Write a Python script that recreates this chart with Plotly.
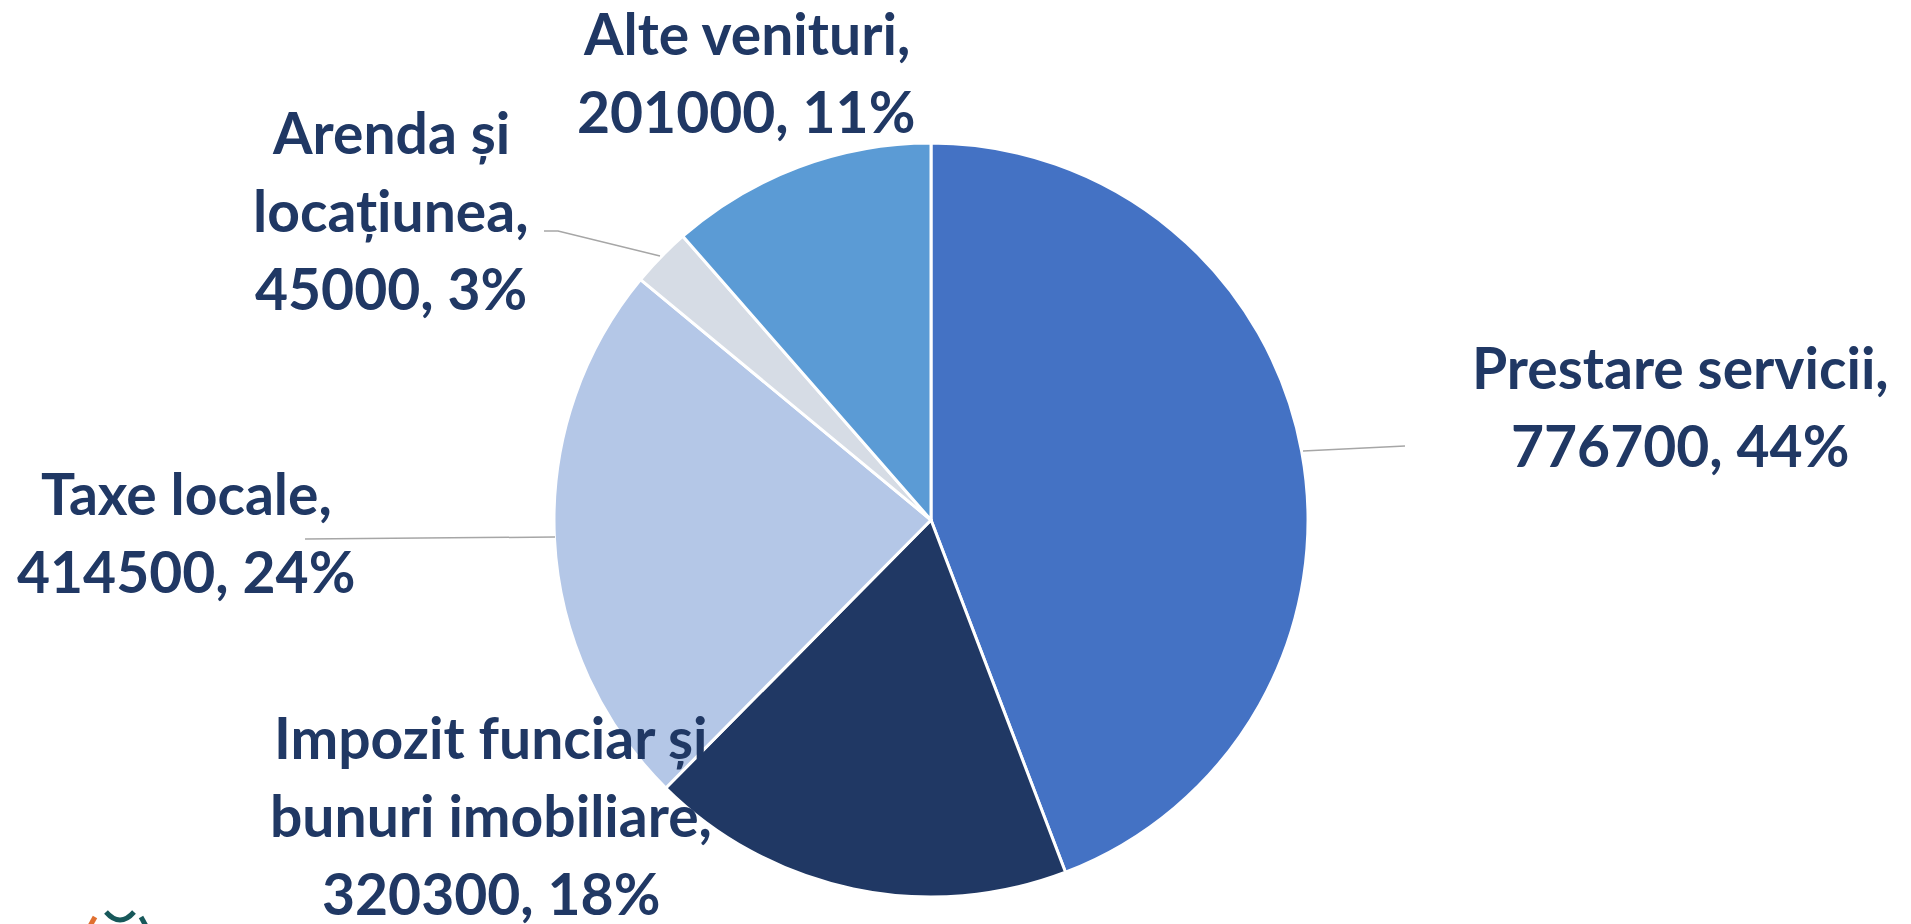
import plotly.graph_objects as go

W, H = 1911, 924

# ---- data ----
categories = ["Prestare servicii", "Impozit funciar și bunuri imobiliare", "Taxe locale",
              "Arenda și locațiunea", "Alte venituri"]
values = [776700, 320300, 414500, 45000, 201000]
colors = ["#4472C4", "#203864", "#B4C7E7", "#D6DCE5", "#5B9BD5"]
# label line breaks as shown in the chart
label_lines = [
    ["Prestare servicii,"],
    ["Impozit funciar și", "bunuri imobiliare,"],
    ["Taxe locale,"],
    ["Arenda și", "locațiunea,"],
    ["Alte venituri,"],
]

total = sum(values)
percents = [round(v / total * 100) for v in values]

# ---- layout (pixel positions of label blocks, style only) ----
label_pos = [(1680, 406), (491, 815), (186, 532), (391, 210), (746, 72)]
line_step = 78
leaders = [
    [(1303, 451), (1405, 446)],
    None,
    [(555, 537), (305, 539)],
    [(660, 256), (558, 231), (544, 231)],
    None,
]
cx, cy, r = 931, 520, 377


def px(x):
    return x / W


def py(y):
    return 1 - y / H


fig = go.Figure()
fig.add_trace(go.Pie(
    labels=categories,
    values=values,
    sort=False,
    direction="clockwise",
    rotation=0,
    marker=dict(colors=colors, line=dict(color="white", width=3)),
    textinfo="none",
    hoverinfo="label+value+percent",
    showlegend=False,
    domain=dict(x=[px(cx - r), px(cx + r)], y=[py(cy + r), py(cy - r)]),
))

text_color = "#203864"
annotations = []
for lines, v, p, (x, y) in zip(label_lines, values, percents, label_pos):
    all_lines = lines + [f"{v}, {p}%"]
    n = len(all_lines)
    for i, ln in enumerate(all_lines):
        yy = y + (i - (n - 1) / 2) * line_step
        annotations.append(dict(
            x=px(x), y=py(yy), xref="paper", yref="paper",
            text=f"<b>{ln}</b>", showarrow=False,
            xanchor="center", yanchor="middle", align="center",
            font=dict(family="Lato", size=57, color=text_color),
        ))

shapes = []
for ld in leaders:
    if ld is None:
        continue
    path = "M " + " L ".join(f"{px(a)},{py(b)}" for a, b in ld)
    shapes.append(dict(type="path", xref="paper", yref="paper", path=path,
                       line=dict(color="#A6A6A6", width=1.5)))

# partial logo at bottom-left edge
shapes.append(dict(type="path", xref="paper", yref="paper",
                   path=f"M {px(106)},{py(912)} Q {px(120)},{py(928)} {px(134)},{py(912)}",
                   line=dict(color="#17585A", width=5)))
shapes.append(dict(type="path", xref="paper", yref="paper",
                   path=f"M {px(141)},{py(917)} L {px(146)},{py(926)}",
                   line=dict(color="#17585A", width=5)))
shapes.append(dict(type="path", xref="paper", yref="paper",
                   path=f"M {px(95)},{py(917)} L {px(90)},{py(926)}",
                   line=dict(color="#E07030", width=5)))

fig.update_layout(
    width=W, height=H,
    margin=dict(l=0, r=0, t=0, b=0),
    paper_bgcolor="white", plot_bgcolor="white",
    annotations=annotations,
    shapes=shapes,
)

fig.write_html("out.html", config={"displayModeBar": False},
               post_script="document.body.style.margin='0';")
